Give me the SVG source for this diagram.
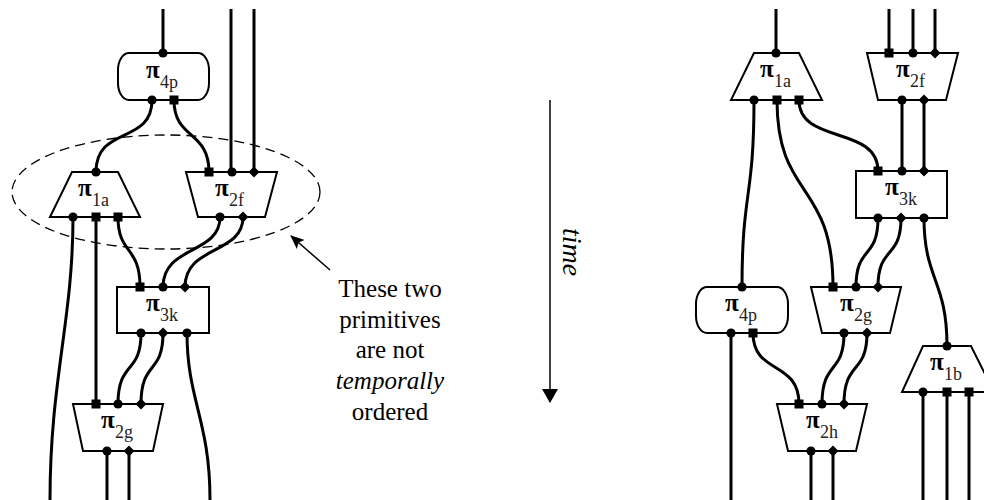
<svg xmlns="http://www.w3.org/2000/svg" width="984" height="500" viewBox="0 0 984 500">
<style>
.w{fill:none;stroke:#000;stroke-width:3}
.n{fill:#fff;stroke:#000;stroke-width:2}
.p{fill:#000}
.pi{font-family:"Liberation Serif",serif;font-weight:bold;font-size:25px;fill:#000}
.sub{font-family:"Liberation Serif",serif;font-size:18px;fill:#222}
.t{font-family:"Liberation Serif",serif;font-size:25px;fill:#000;text-anchor:middle}
</style>
<defs>
<circle id="c" r="4.6" class="p"/>
<rect id="s" x="-4.5" y="-4.5" width="9" height="9" class="p"/>
<path id="d" d="M0,-5.5 L5.5,0 L0,5.5 L-5.5,0 Z" class="p"/>
<marker id="ah" markerWidth="14" markerHeight="16" refX="13" refY="8" orient="auto" markerUnits="userSpaceOnUse">
<path d="M0,0 L14,8 L0,16 Z" fill="#000"/>
</marker>
<marker id="ah2" markerWidth="14" markerHeight="12" refX="13" refY="6" orient="auto" markerUnits="userSpaceOnUse">
<path d="M0,0 L14,6 L0,12 L3,6 Z" fill="#000"/>
</marker>
</defs>
<rect width="984" height="500" fill="#fff"/>

<g id="connectors">
<!-- left -->
<path class="w" d="M163,9 V53"/>
<path class="w" d="M231,9 V172"/>
<path class="w" d="M254,9 V172"/>
<path class="w" d="M152,100 C152,145 96,125 96,172"/>
<path class="w" d="M174,100 C174,140 209,130 209,172"/>
<path class="w" d="M73,217 C73,320 50,380 50,500"/>
<path class="w" d="M96,217 V404"/>
<path class="w" d="M118,217 C118,255 140,245 140,287"/>
<path class="w" d="M220,217 C220,255 163,245 163,287"/>
<path class="w" d="M243,217 C243,255 185,245 185,287"/>
<path class="w" d="M141,333 C141,375 118,360 118,404"/>
<path class="w" d="M163,333 C163,375 141,360 141,404"/>
<path class="w" d="M187,333 C187,400 210,420 210,500"/>
<path class="w" d="M107,451 V500"/>
<path class="w" d="M129,451 V500"/>
<!-- right -->
<path class="w" d="M776,9 V53"/>
<path class="w" d="M889,9 V53"/>
<path class="w" d="M913,9 V53"/>
<path class="w" d="M935,9 V53"/>
<path class="w" d="M902,100 V171"/>
<path class="w" d="M924,100 V171"/>
<path class="w" d="M799,100 C799,145 878,125 878,171"/>
<path class="w" d="M754,100 C754,200 742,190 742,287"/>
<path class="w" d="M777,100 C777,200 833,180 833,287"/>
<path class="w" d="M878,218 C878,260 856,245 856,287"/>
<path class="w" d="M901,218 C901,260 878,245 878,287"/>
<path class="w" d="M924,218 C924,280 947,280 947,346"/>
<path class="w" d="M731,333 V500"/>
<path class="w" d="M753,333 C753,375 799,360 799,404"/>
<path class="w" d="M844,333 C844,375 822,360 822,404"/>
<path class="w" d="M867,333 C867,375 844,360 844,404"/>
<path class="w" d="M811,451 V500"/>
<path class="w" d="M833,451 V500"/>
<path class="w" d="M923,392 V500"/>
<path class="w" d="M947,392 V500"/>
<path class="w" d="M969,392 V500"/>
</g>

<ellipse cx="166" cy="192" rx="154" ry="57" fill="none" stroke="#000" stroke-width="1.3" stroke-dasharray="10,6"/>

<!-- left nodes -->
<g id="L_pi4p">
<rect class="n" x="118" y="53" width="91" height="47" rx="11" ry="17"/>
<text class="pi" x="146" y="78">π</text><text class="sub" x="160" y="88">4p</text>
<use href="#c" x="163" y="53"/><use href="#c" x="152" y="100"/><use href="#s" x="174" y="100"/>
</g>
<g id="L_pi1a">
<path class="n" d="M72,172 H118 L140,217 H50 Z"/>
<text class="pi" x="78" y="196">π</text><text class="sub" x="92" y="206">1a</text>
<use href="#c" x="96" y="172"/><use href="#c" x="73" y="217"/><use href="#s" x="96" y="217"/><use href="#s" x="118" y="217"/>
</g>
<g id="L_pi2f">
<path class="n" d="M186,172 H277 L265,217 H198 Z"/>
<text class="pi" x="215" y="196">π</text><text class="sub" x="229" y="206">2f</text>
<use href="#s" x="209" y="172"/><use href="#c" x="232" y="172"/><use href="#d" x="254" y="172"/>
<use href="#c" x="220" y="217"/><use href="#d" x="243" y="217"/>
</g>
<g id="L_pi3k">
<rect class="n" x="117" y="287" width="92" height="46"/>
<text class="pi" x="146" y="311">π</text><text class="sub" x="160" y="321">3k</text>
<use href="#s" x="140" y="287"/><use href="#c" x="163" y="287"/><use href="#d" x="185" y="287"/>
<use href="#c" x="141" y="333"/><use href="#d" x="163" y="333"/><use href="#c" x="187" y="333"/>
</g>
<g id="L_pi2g">
<path class="n" d="M73,404 H163 L153,451 H83 Z"/>
<text class="pi" x="101" y="428">π</text><text class="sub" x="115" y="438">2g</text>
<use href="#s" x="96" y="404"/><use href="#c" x="118" y="404"/><use href="#d" x="141" y="404"/>
<use href="#c" x="107" y="451"/><use href="#d" x="129" y="451"/>
</g>

<!-- annotation -->
<g id="note">
<line x1="330" y1="270" x2="291" y2="236" stroke="#000" stroke-width="1.5" marker-end="url(#ah2)"/>
<text class="t" x="390" y="297">These two</text>
<text class="t" x="390" y="328">primitives</text>
<text class="t" x="390" y="358">are not</text>
<text class="t" x="390" y="389" font-style="italic">temporally</text>
<text class="t" x="390" y="420">ordered</text>
</g>
<g id="time">
<line x1="550" y1="100" x2="550" y2="402" stroke="#000" stroke-width="1.5" marker-end="url(#ah)"/>
<text x="563" y="252" transform="rotate(90 563 252)" font-family="Liberation Serif,serif" font-style="italic" font-size="28" text-anchor="middle">time</text>
</g>

<!-- right nodes -->
<g id="R_pi1a">
<path class="n" d="M754,53 H799 L822,100 H731 Z"/>
<text class="pi" x="760" y="77">π</text><text class="sub" x="774" y="87">1a</text>
<use href="#c" x="776" y="53"/><use href="#c" x="754" y="100"/><use href="#s" x="777" y="100"/><use href="#s" x="799" y="100"/>
</g>
<g id="R_pi2f">
<path class="n" d="M867,53 H958 L946,100 H878 Z"/>
<text class="pi" x="896" y="77">π</text><text class="sub" x="910" y="87">2f</text>
<use href="#s" x="889" y="53"/><use href="#c" x="913" y="53"/><use href="#d" x="935" y="53"/>
<use href="#c" x="902" y="100"/><use href="#d" x="924" y="100"/>
</g>
<g id="R_pi3k">
<rect class="n" x="856" y="171" width="91" height="47"/>
<text class="pi" x="885" y="195">π</text><text class="sub" x="899" y="205">3k</text>
<use href="#s" x="878" y="171"/><use href="#c" x="902" y="171"/><use href="#d" x="924" y="171"/>
<use href="#c" x="878" y="218"/><use href="#d" x="901" y="218"/><use href="#c" x="924" y="218"/>
</g>
<g id="R_pi4p">
<rect class="n" x="696" y="287" width="92" height="46" rx="11" ry="17"/>
<text class="pi" x="725" y="311">π</text><text class="sub" x="739" y="321">4p</text>
<use href="#c" x="742" y="287"/><use href="#c" x="731" y="333"/><use href="#s" x="753" y="333"/>
</g>
<g id="R_pi2g">
<path class="n" d="M811,287 H901 L890,333 H822 Z"/>
<text class="pi" x="840" y="311">π</text><text class="sub" x="854" y="321">2g</text>
<use href="#s" x="833" y="287"/><use href="#c" x="856" y="287"/><use href="#d" x="878" y="287"/>
<use href="#c" x="844" y="333"/><use href="#d" x="867" y="333"/>
</g>
<g id="R_pi1b">
<path class="n" d="M923,346 H971 L994,392 H902 Z"/>
<text class="pi" x="930" y="370">π</text><text class="sub" x="944" y="380">1b</text>
<use href="#c" x="947" y="346"/><use href="#c" x="923" y="392"/><use href="#s" x="947" y="392"/><use href="#s" x="969" y="392"/>
</g>
<g id="R_pi2h">
<path class="n" d="M777,404 H867 L856,451 H788 Z"/>
<text class="pi" x="806" y="428">π</text><text class="sub" x="820" y="438">2h</text>
<use href="#s" x="799" y="404"/><use href="#c" x="822" y="404"/><use href="#d" x="844" y="404"/>
<use href="#c" x="811" y="451"/><use href="#d" x="833" y="451"/>
</g>
</svg>
